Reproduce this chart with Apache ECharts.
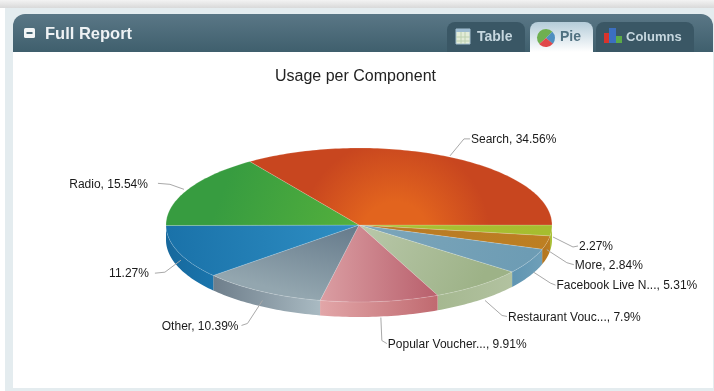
<!DOCTYPE html>
<html>
<head>
<meta charset="utf-8">
<script src="https://cdn.jsdelivr.net/npm/echarts@6/dist/echarts.min.js"></script>
<style>html,body{margin:0;padding:0;background:#fff}#c{width:714px;height:391px}</style>
</head>
<body>
<div id="c"></div>
<script>
// Slice values, clockwise from the three o'clock position
const sliceNames = ['', 'More', 'Facebook Live N...', 'Restaurant Vouc...', 'Popular Voucher...', 'Other', '', 'Radio', 'Search'];
const sliceShares = [2.27, 2.84, 5.31, 7.9, 9.91, 10.39, 11.27, 15.54, 34.56];
const tabNames = ['Table', 'Pie', 'Columns'];

// Disc geometry
const CX = 359, CY = 225, RX = 193, RY = 77, DEPTH = 15;

// [top from, top to, gradient vector x, y, wall from, wall to, gradient origin x, y]
const sliceStyles = [
  ['#aabf33', '#a6bd2f', 190, 0, '#a2bb30', '#acc236', 0, 0],
  ['#b87a26', '#bd7f22', 190, 20, '#b27522', '#bb7c20', 0, 0],
  ['#7da6ba', '#6d9cb4', 170, 30, '#5f95b2', '#6f9fb8', 0, 0],
  ['#b9c8aa', '#9db287', 120, 60, '#a5b890', '#b2c2a0', 0, 0],
  ['#bb6470', '#dea4a8', -120, 0, '#e2a6a8', '#c06a70', 70, 0],
  ['#64798a', '#93a6af', -20, 80, '#6e7e8b', '#a9bac2', 0, 0],
  ['#2f8fc4', '#1a72a9', -190, 20, '#17689c', '#1a75ad', 0, 0],
  ['#54b03c', '#379c40', -130, -50, '#379c40', '#379c40', 0, 0]
];
// The large slice glows outward from a point just right of the hub
const searchGlow = { dx: 36, dy: 10, r: 95, inner: '#e2641e', outer: '#c8461f' };

// Leader line steps relative to each slice's rim point: start, elbow, end
const leaderSteps = [
  [[1.5, 6.5], [21.5, 16.5], [26.5, 15.5]],
  [[0, 7], [20, 20], [27, 22]],
  [[4, 11], [21, 22], [26, 24]],
  [[6.5, 15], [23.5, 30], [28.5, 31]],
  [[1, 16], [2, 39], [7, 42]],
  [[1, 9], [-14, 32], [-20, 34]],
  [[2.5, 8], [-13.5, 20], [-23.5, 21]],
  [[-4, 0], [-18, -5], [-30, -6]],
  [[1, -1], [15, -18], [21, -18]]
];
const labelGaps = [1, 1, 1, 1, 1, 3, 6, 10, 1];

const total = sliceShares.reduce((a, b) => a + b, 0);
const FONT = '"Liberation Sans", Arial, sans-serif';

function angleAt(i) {
  let sum = 0;
  for (let k = 0; k < i; k++) sum += sliceShares[k];
  return sum / total * Math.PI * 2;
}
function rimPoint(t, dy) {
  return [CX + RX * Math.cos(t), CY + RY * Math.sin(t) + (dy || 0)];
}
function arc(a0, a1, dy) {
  const n = Math.max(2, Math.ceil((a1 - a0) / 0.02));
  const pts = [];
  for (let j = 0; j <= n; j++) pts.push(rimPoint(a0 + (a1 - a0) * j / n, dy));
  return pts;
}
function linear(x0, y0, x1, y1, from, to) {
  return new echarts.graphic.LinearGradient(x0, y0, x1, y1,
    [{ offset: 0, color: from }, { offset: 1, color: to }], true);
}
function topFill(i) {
  const st = sliceStyles[i];
  if (!st) {
    return new echarts.graphic.RadialGradient(CX + searchGlow.dx, CY + searchGlow.dy, searchGlow.r,
      [{ offset: 0, color: searchGlow.inner }, { offset: 0.35, color: searchGlow.inner }, { offset: 1, color: searchGlow.outer }], true);
  }
  const ox = CX + st[6], oy = CY + st[7];
  return linear(ox, oy, ox + st[2], oy + st[3], st[0], st[1]);
}

function renderSlice(params, api) {
  const i = params.dataIndex;
  const a0 = angleAt(i), a1 = angleAt(i + 1), mid = (a0 + a1) / 2;
  const st = sliceStyles[i];
  const children = [];

  // Side wall: only the part of the slice on the near half of the disc
  const w0 = Math.min(a0, Math.PI), w1 = Math.min(a1, Math.PI);
  if (w1 > w0) {
    const top = arc(w0, w1, 0);
    const bottom = arc(w0, w1, DEPTH).reverse();
    const xa = rimPoint(w0)[0], xb = rimPoint(w1)[0];
    children.push({
      type: 'polygon',
      shape: { points: top.concat(bottom) },
      style: { fill: linear(xb, 0, xa, 0, st[4], st[5]) }
    });
  }

  // Top face
  children.push({
    type: 'polygon',
    shape: { points: [[CX, CY]].concat(arc(a0, a1, 0)) },
    style: {
      fill: topFill(i),
      stroke: 'rgba(255,255,255,0.28)',
      lineWidth: 0.6
    }
  });

  // Leader line and label
  const rim = rimPoint(mid);
  const steps = leaderSteps[i].map(s => [rim[0] + s[0], rim[1] + s[1]]);
  const end = steps[2];
  const onLeft = Math.cos(mid) < 0;
  const value = api.value(0);
  const name = sliceNames[i];
  children.push({
    type: 'polyline',
    z2: 5,
    shape: { points: steps },
    style: { stroke: '#a9a9a9', lineWidth: 1, fill: null }
  });
  children.push({
    type: 'text',
    z2: 6,
    style: {
      text: (name ? name + ', ' : '') + value + '%',
      x: end[0] + (onLeft ? -labelGaps[i] : labelGaps[i]),
      y: end[1] + 1,
      align: onLeft ? 'right' : 'left',
      verticalAlign: 'middle',
      font: '12px ' + FONT,
      fill: '#1a1a1a'
    }
  });
  return { type: 'group', children };
}

// Panel chrome behind the chart
const chrome = [
  { type: 'rect', shape: { x: 0, y: 0, width: 714, height: 391 }, style: { fill: '#ffffff' } },
  { type: 'rect', shape: { x: 0, y: 0, width: 714, height: 8 },
    style: { fill: linear(0, 0, 0, 8, '#f3f3f3', '#d9d9d9') } },
  { type: 'rect', shape: { x: 5, y: 8, width: 709, height: 383 }, style: { fill: '#e4ecef' } },
  { type: 'rect', shape: { x: 13, y: 40, width: 700, height: 348 }, style: { fill: '#ffffff' } },
  { type: 'rect', shape: { x: 13, y: 14, width: 700, height: 38, r: [12, 12, 0, 0] },
    style: { fill: linear(0, 14, 0, 52, '#5a7786', '#3f5f6d') } },
  { type: 'rect', shape: { x: 24, y: 28, width: 11, height: 10, r: 1.5 }, style: { fill: '#f2f5f6' } },
  { type: 'rect', shape: { x: 26.5, y: 32, width: 6, height: 2 }, style: { fill: '#4a6977' } },
  { type: 'text', style: { text: 'Full Report', x: 45, y: 34, verticalAlign: 'middle',
      font: 'bold 16.5px ' + FONT, fill: '#eef2f4' } },

  // Tabs
  { type: 'rect', shape: { x: 447, y: 22, width: 78, height: 30, r: [8, 8, 0, 0] }, style: { fill: '#3a5765' } },
  { type: 'rect', shape: { x: 530, y: 22, width: 63, height: 30, r: [8, 8, 0, 0] },
    style: { fill: linear(0, 22, 0, 52, '#b4ccd9', '#ffffff') } },
  { type: 'rect', shape: { x: 596, y: 22, width: 98, height: 30, r: [8, 8, 0, 0] }, style: { fill: '#3a5765' } },
  { type: 'text', style: { text: tabNames[0], x: 477, y: 37, verticalAlign: 'middle',
      font: 'bold 14px ' + FONT, fill: '#c6d7df' } },
  { type: 'text', style: { text: tabNames[1], x: 560, y: 37, verticalAlign: 'middle',
      font: 'bold 14px ' + FONT, fill: '#4f7080' } },
  { type: 'text', style: { text: tabNames[2], x: 626, y: 37, verticalAlign: 'middle',
      font: 'bold 13px ' + FONT, fill: '#c6d7df' } },

  // Table icon
  { type: 'rect', shape: { x: 456, y: 29, width: 14, height: 15 }, style: { fill: '#e3ecd8', stroke: '#a4c0d0', lineWidth: 1 } },
  { type: 'rect', shape: { x: 456, y: 29, width: 14, height: 3 }, style: { fill: '#9dbbd0' } },
  { type: 'line', shape: { x1: 461, y1: 32, x2: 461, y2: 44 }, style: { stroke: '#bcd0b0', lineWidth: 1 } },
  { type: 'line', shape: { x1: 465, y1: 32, x2: 465, y2: 44 }, style: { stroke: '#bcd0b0', lineWidth: 1 } },
  { type: 'line', shape: { x1: 456, y1: 37, x2: 470, y2: 37 }, style: { stroke: '#bcd0b0', lineWidth: 1 } },
  { type: 'line', shape: { x1: 456, y1: 41, x2: 470, y2: 41 }, style: { stroke: '#bcd0b0', lineWidth: 1 } },

  // Pie icon
  { type: 'sector', shape: { cx: 546, cy: 38, r: 9, startAngle: 2.4, endAngle: 5.5 }, style: { fill: '#6fb050' } },
  { type: 'sector', shape: { cx: 546, cy: 38, r: 9, startAngle: 5.5, endAngle: 7.0 }, style: { fill: '#4f8fc0' } },
  { type: 'sector', shape: { cx: 546, cy: 38, r: 9, startAngle: 0.7, endAngle: 2.4 }, style: { fill: '#e0484a' } },

  // Columns icon
  { type: 'rect', shape: { x: 604, y: 33, width: 5, height: 10 }, style: { fill: '#d8342c' } },
  { type: 'rect', shape: { x: 609, y: 28, width: 7, height: 15 }, style: { fill: '#3c6fc0' } },
  { type: 'rect', shape: { x: 616, y: 36, width: 6, height: 7 }, style: { fill: '#5cab48' } }
];

const chart = echarts.init(document.getElementById('c'));
chart.setOption({
  animation: false,
  title: {
    text: 'Usage per Component',
    left: 275,
    top: 69,
    padding: 0,
    textStyle: { fontFamily: FONT, fontSize: 16, fontWeight: 'normal', color: '#222222' }
  },
  graphic: { elements: chrome.map(e => Object.assign({ silent: true, z: -1 }, e)) },
  series: [{
    type: 'custom',
    coordinateSystem: 'none',
    silent: true,
    clip: false,
    renderItem: renderSlice,
    data: sliceShares.map(v => [v])
  }]
});
</script>
</body>
</html>
